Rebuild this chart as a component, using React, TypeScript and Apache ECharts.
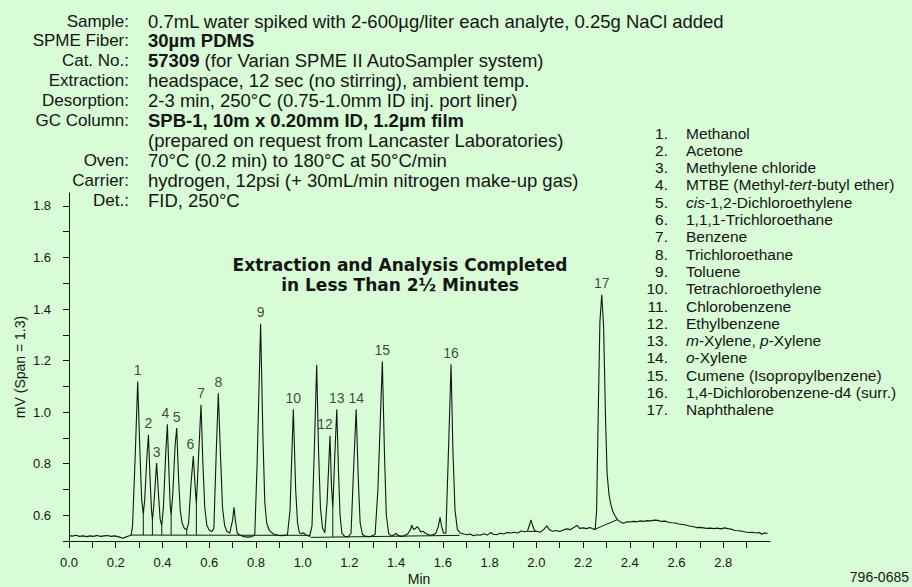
import React, { useEffect, useRef } from "react";
import * as echarts from "echarts";

const headerLabels = ["Sample:", "SPME Fiber:", "Cat. No.:", "Extraction:", "Desorption:", "GC Column:", "", "Oven:", "Carrier:", "Det.:"];
const headerValues = [
  "0.7mL water spiked with 2-600µg/liter each analyte, 0.25g NaCl added",
  "{b|30µm PDMS}",
  "{b|57309} (for Varian SPME II AutoSampler system)",
  "headspace, 12 sec (no stirring), ambient temp.",
  "2-3 min, 250°C (0.75-1.0mm ID inj. port liner)",
  "{b|SPB-1, 10m x 0.20mm ID, 1.2µm film}",
  "(prepared on request from Lancaster Laboratories)",
  "70°C (0.2 min) to 180°C at 50°C/min",
  "hydrogen, 12psi (+ 30mL/min nitrogen make-up gas)",
  "FID, 250°C",
];

const compoundNames = [
  "Methanol",
  "Acetone",
  "Methylene chloride",
  "MTBE (Methyl-{i|tert}-butyl ether)",
  "{i|cis}-1,2-Dichloroethylene",
  "1,1,1-Trichloroethane",
  "Benzene",
  "Trichloroethane",
  "Toluene",
  "Tetrachloroethylene",
  "Chlorobenzene",
  "Ethylbenzene",
  "{i|m}-Xylene, {i|p}-Xylene",
  "{i|o}-Xylene",
  "Cumene (Isopropylbenzene)",
  "1,4-Dichlorobenzene-d4 (surr.)",
  "Naphthalene",
];

const titleLines = ["Extraction and Analysis Completed", "in Less Than 2½ Minutes"];
const yAxisTitle = "mV (Span = 1.3)";
const xAxisTitle = "Min";
const footerCode = "796-0685";

const xTickValues = [0, 0.1, 0.2, 0.3, 0.4, 0.5, 0.6, 0.7, 0.8, 0.9, 1.0, 1.1, 1.2, 1.3, 1.4, 1.5, 1.6, 1.7, 1.8, 1.9, 2.0, 2.1, 2.2, 2.3, 2.4, 2.5, 2.6, 2.7, 2.8, 2.9];
const xLabelValues = [0, 0.2, 0.4, 0.6, 0.8, 1.0, 1.2, 1.4, 1.6, 1.8, 2.0, 2.2, 2.4, 2.6, 2.8];
const yTickValues = [0.5, 0.6, 0.7, 0.8, 0.9, 1.0, 1.1, 1.2, 1.3, 1.4, 1.5, 1.6, 1.7, 1.8];
const yLabelValues = [0.6, 0.8, 1.0, 1.2, 1.4, 1.6, 1.8];

// detector trace [min, mV]
const signal: [number, number][] = [
  [0.0, 0.521], [0.015, 0.519], [0.03, 0.522], [0.045, 0.518], [0.06, 0.52], [0.075, 0.517], [0.09, 0.52], [0.105, 0.518],
  [0.12, 0.521], [0.135, 0.518], [0.15, 0.52], [0.165, 0.521], [0.18, 0.518], [0.195, 0.52], [0.21, 0.517], [0.22, 0.514],
  [0.232, 0.511], [0.245, 0.516], [0.258, 0.52], [0.266, 0.523],
  [0.272, 0.56], [0.283, 0.82], [0.294, 1.119], [0.303, 0.86], [0.311, 0.66], [0.318, 0.605],
  [0.324, 0.66], [0.333, 0.82], [0.34, 0.912], [0.347, 0.74], [0.353, 0.62], [0.357, 0.582],
  [0.363, 0.64], [0.375, 0.802], [0.383, 0.68], [0.39, 0.585], [0.397, 0.56],
  [0.404, 0.63], [0.414, 0.84], [0.421, 0.953], [0.428, 0.76], [0.433, 0.64], [0.437, 0.6],
  [0.444, 0.68], [0.454, 0.87], [0.461, 0.938], [0.469, 0.74], [0.476, 0.62], [0.484, 0.57], [0.494, 0.548], [0.504, 0.545], [0.512, 0.57],
  [0.522, 0.72], [0.532, 0.83], [0.539, 0.72], [0.545, 0.645],
  [0.552, 0.78], [0.565, 1.028], [0.573, 0.8], [0.581, 0.63], [0.59, 0.56], [0.6, 0.543], [0.612, 0.537], [0.62, 0.55],
  [0.63, 0.84], [0.639, 1.073], [0.648, 0.84], [0.657, 0.63], [0.666, 0.56], [0.676, 0.537], [0.688, 0.531],
  [0.7, 0.58], [0.706, 0.631], [0.712, 0.58], [0.72, 0.53], [0.735, 0.521], [0.75, 0.517], [0.765, 0.515], [0.782, 0.517], [0.795, 0.522],
  [0.805, 0.8], [0.82, 1.343], [0.83, 0.9], [0.838, 0.65], [0.846, 0.57], [0.858, 0.54], [0.875, 0.527], [0.895, 0.522], [0.915, 0.521], [0.935, 0.524],
  [0.946, 0.62], [0.96, 1.011], [0.97, 0.7], [0.978, 0.57], [0.986, 0.532], [0.995, 0.528], [1.003, 0.532], [1.015, 0.523], [1.03, 0.518],
  [1.04, 0.56], [1.05, 0.86], [1.06, 1.183], [1.068, 0.85], [1.076, 0.63], [1.085, 0.55], [1.095, 0.532],
  [1.105, 0.66], [1.117, 0.908], [1.123, 0.72], [1.129, 0.628],
  [1.137, 0.82], [1.146, 1.011], [1.153, 0.78], [1.16, 0.6], [1.168, 0.53], [1.18, 0.518], [1.195, 0.517], [1.207, 0.53],
  [1.218, 0.78], [1.229, 1.011], [1.238, 0.74], [1.246, 0.57], [1.256, 0.525], [1.27, 0.518], [1.29, 0.517], [1.31, 0.525],
  [1.322, 0.7], [1.341, 1.196], [1.35, 0.84], [1.358, 0.6], [1.368, 0.53], [1.38, 0.519],
  [1.392, 0.524], [1.4, 0.53], [1.408, 0.522], [1.42, 0.518], [1.435, 0.52], [1.45, 0.528], [1.462, 0.545], [1.467, 0.562], [1.474, 0.545],
  [1.482, 0.548], [1.49, 0.556], [1.497, 0.548], [1.505, 0.535], [1.515, 0.538], [1.525, 0.53], [1.54, 0.524], [1.555, 0.523], [1.57, 0.53],
  [1.58, 0.555], [1.588, 0.592], [1.595, 0.555], [1.603, 0.53], [1.613, 0.53],
  [1.624, 0.85], [1.635, 1.186], [1.643, 0.85], [1.652, 0.62], [1.662, 0.545], [1.674, 0.531],
  [1.69, 0.527], [1.705, 0.524], [1.717, 0.527], [1.73, 0.52], [1.745, 0.524], [1.76, 0.522], [1.775, 0.528], [1.79, 0.523], [1.805, 0.533],
  [1.815, 0.526], [1.83, 0.524], [1.845, 0.53], [1.86, 0.527], [1.875, 0.533], [1.89, 0.531], [1.905, 0.534], [1.92, 0.531], [1.935, 0.539],
  [1.95, 0.536], [1.962, 0.538],
  [1.97, 0.56], [1.977, 0.582], [1.984, 0.56], [1.992, 0.541], [2.002, 0.538], [2.015, 0.534], [2.03, 0.543], [2.045, 0.559], [2.055, 0.545],
  [2.07, 0.538], [2.085, 0.541], [2.1, 0.537], [2.115, 0.543], [2.13, 0.547], [2.145, 0.544], [2.16, 0.552], [2.175, 0.561], [2.185, 0.549],
  [2.2, 0.551], [2.215, 0.548], [2.23, 0.552], [2.245, 0.546], [2.252, 0.545],
  [2.258, 0.62], [2.265, 1.0], [2.272, 1.35], [2.28, 1.455], [2.288, 1.33], [2.296, 0.98], [2.303, 0.76], [2.311, 0.68], [2.318, 0.645],
  [2.327, 0.615], [2.337, 0.597], [2.348, 0.582], [2.36, 0.574], [2.372, 0.569], [2.385, 0.574],
  [2.4, 0.574], [2.415, 0.576], [2.43, 0.575], [2.445, 0.578], [2.46, 0.576], [2.475, 0.579], [2.49, 0.578], [2.505, 0.581], [2.52, 0.58],
  [2.535, 0.576], [2.55, 0.577], [2.565, 0.573], [2.58, 0.571], [2.595, 0.57], [2.61, 0.566], [2.625, 0.564], [2.64, 0.562], [2.655, 0.558],
  [2.67, 0.556], [2.685, 0.552], [2.7, 0.553], [2.715, 0.551], [2.73, 0.549], [2.745, 0.55], [2.76, 0.548], [2.775, 0.55], [2.79, 0.547],
  [2.805, 0.551], [2.82, 0.548], [2.835, 0.546], [2.85, 0.541], [2.865, 0.54], [2.88, 0.538], [2.895, 0.535], [2.91, 0.533], [2.925, 0.534],
  [2.94, 0.531], [2.955, 0.533], [2.965, 0.526], [2.975, 0.531], [2.99, 0.53],
];

// integration baselines
const baselineSegments: [number, number][][] = [
  [[0.265, 0.523], [1.032, 0.522]],
  [[1.035, 0.514], [1.672, 0.522]],
  [[1.965, 0.537], [2.0, 0.537]],
  [[2.249, 0.545], [2.345, 0.582]],
];
const dropTimes = [0.318, 0.357, 0.397, 0.437, 0.504, 0.545, 1.129];
const dropBottoms = [0.523, 0.523, 0.523, 0.523, 0.523, 0.523, 0.516];
const dropTops = [0.605, 0.582, 0.56, 0.6, 0.546, 0.645, 0.628];

// peak labels
const peakNumbers = ["1", "2", "3", "4", "5", "6", "7", "8", "9", "10", "12", "13", "14", "15", "16", "17"];
const peakTimes = [0.294, 0.34, 0.375, 0.421, 0.461, 0.532, 0.565, 0.639, 0.82, 0.96, 1.117, 1.146, 1.229, 1.341, 1.635, 2.28];
const peakHeights = [1.119, 0.912, 0.802, 0.953, 0.938, 0.83, 1.028, 1.073, 1.343, 1.011, 0.908, 1.011, 1.011, 1.196, 1.186, 1.455];

const FONT = "'Liberation Sans', Arial, Helvetica, sans-serif";
const INK = "#151515";
const BG = "#d8fcd6";

const labelOffsets: Record<string, [number, number]> = { "12": [-5, 0], "6": [-3, 0], "4": [-2, 0] };

function buildOption() {
  const graphics: any[] = [];
  headerLabels.forEach((lab, i) => {
    const y = 21 + i * 19.9;
    if (lab) {
      graphics.push({
        type: "text", x: 129, y, silent: true,
        style: { text: lab, fontSize: 17, fontFamily: FONT, fill: INK, align: "right", verticalAlign: "middle" },
      });
    }
    graphics.push({
      type: "text", x: 148, y, silent: true,
      style: {
        text: headerValues[i], fontSize: 18.5, fontFamily: FONT, fill: INK, align: "left", verticalAlign: "middle",
        rich: { b: { fontSize: 18.5, fontFamily: FONT, fontWeight: "bold", fill: INK } },
      },
    });
  });
  compoundNames.forEach((name, i) => {
    const y = 133 + i * 17.3;
    graphics.push({
      type: "text", x: 668, y, silent: true,
      style: { text: `${i + 1}.`, fontSize: 15.5, fontFamily: FONT, fill: INK, align: "right", verticalAlign: "middle" },
    });
    graphics.push({
      type: "text", x: 686, y, silent: true,
      style: {
        text: name, fontSize: 15.5, fontFamily: FONT, fill: INK, align: "left", verticalAlign: "middle",
        rich: { i: { fontSize: 15.5, fontFamily: FONT, fontStyle: "italic", fill: INK } },
      },
    });
  });
  titleLines.forEach((t, i) => {
    graphics.push({
      type: "text", x: 400, y: 265 + i * 20, silent: true,
      style: { text: t, fontSize: 17, fontFamily: "'DejaVu Sans', sans-serif", fontWeight: "bold", fill: INK, align: "center", verticalAlign: "middle" },
    });
  });
  graphics.push({
    type: "text", x: 20, y: 367, rotation: Math.PI / 2, silent: true,
    style: { text: yAxisTitle, fontSize: 14, fontFamily: FONT, fill: INK, align: "center", verticalAlign: "middle" },
  });
  graphics.push({
    type: "text", x: 419, y: 579, silent: true,
    style: { text: xAxisTitle, fontSize: 14, fontFamily: FONT, fill: INK, align: "center", verticalAlign: "middle" },
  });
  graphics.push({
    type: "text", x: 909, y: 577, silent: true,
    style: { text: footerCode, fontSize: 14, fontFamily: FONT, fill: INK, align: "right", verticalAlign: "middle" },
  });

  const thin = { color: INK, width: 1 };
  const series: any[] = [
    {
      type: "line", data: signal, showSymbol: false, symbol: "none", silent: true,
      lineStyle: { color: INK, width: 1.1 }, z: 3,
    },
  ];
  baselineSegments.forEach((seg) => {
    series.push({ type: "line", data: seg, symbol: "none", silent: true, lineStyle: thin, z: 2 });
  });
  dropTimes.forEach((t, i) => {
    series.push({ type: "line", data: [[t, dropBottoms[i]], [t, dropTops[i]]], symbol: "none", silent: true, lineStyle: thin, z: 2 });
  });
  series.push({
    type: "scatter",
    symbol: "circle",
    symbolSize: 1,
    silent: true,
    itemStyle: { color: "rgba(0,0,0,0)" },
    z: 4,
    data: peakNumbers.map((n, i) => ({
      name: n,
      value: [peakTimes[i], peakHeights[i]],
      label: labelOffsets[n] ? { offset: labelOffsets[n] } : undefined,
    })),
    label: {
      show: true, position: "top", distance: 4, formatter: (p: any) => p.name,
      fontSize: 14, fontFamily: FONT, color: INK,
    },
  });

  return {
    animation: false,
    backgroundColor: BG,
    grid: { left: 69, right: 142, top: 193, bottom: 46, containLabel: false, outerBoundsMode: "none" },
    xAxis: {
      type: "value", min: 0, max: 3,
      axisLine: { show: true, lineStyle: { color: INK, width: 1 } },
      axisTick: { show: true, customValues: xTickValues, length: 7, lineStyle: { color: INK, width: 1 } },
      axisLabel: {
        show: true, customValues: xLabelValues, margin: 15, fontSize: 13, fontFamily: FONT, color: INK,
        formatter: (v: number) => v.toFixed(1),
      },
      splitLine: { show: false },
    },
    yAxis: {
      type: "value", min: 0.5, max: 1.85,
      axisLine: { show: true, lineStyle: { color: INK, width: 1 } },
      axisTick: { show: true, customValues: yTickValues, length: 6, lineStyle: { color: INK, width: 1 } },
      axisLabel: {
        show: true, customValues: yLabelValues, margin: 18, fontSize: 13, fontFamily: FONT, color: INK,
        formatter: (v: number) => v.toFixed(1),
      },
      splitLine: { show: false },
    },
    graphic: graphics,
    series,
  };
}

export default function App() {
  const ref = useRef<HTMLDivElement>(null);
  useEffect(() => {
    if (!ref.current) return;
    const chart = echarts.init(ref.current, null, { renderer: "svg" });
    chart.setOption(buildOption() as any);
    return () => chart.dispose();
  }, []);
  return <div ref={ref} style={{ position: "fixed", left: 0, top: 0, width: 912, height: 587 }} />;
}
